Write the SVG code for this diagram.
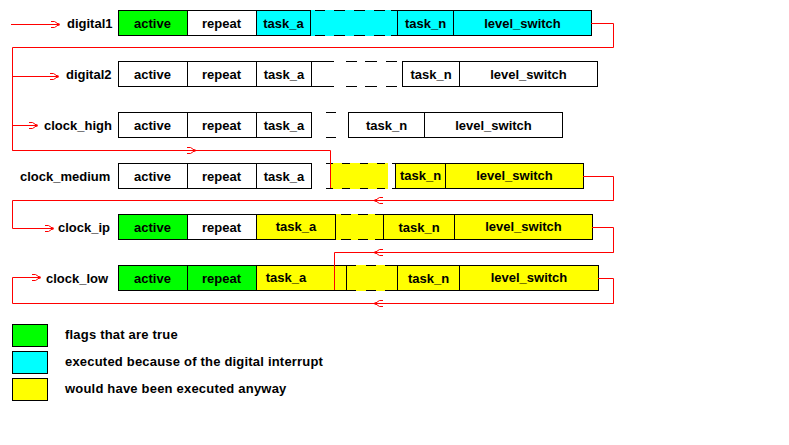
<svg xmlns="http://www.w3.org/2000/svg" width="789" height="445" viewBox="0 0 789 445">
  <style>
    text { font-family: "Liberation Sans", Arial, sans-serif; font-size: 13px; font-weight: bold; fill: #000; }
    .c { text-anchor: middle; }
    .key { letter-spacing: 0.2px; }
    .cell { stroke: #000; stroke-width: 1; }
    .w { fill: #fff; }
    .g { fill: #00ff00; }
    .cy { fill: #00ffff; }
    .y { fill: #ffff00; }
    .dash { stroke: #000; stroke-width: 1; fill: none; }
    .wire { stroke: #ff0000; stroke-width: 1; fill: none; }
  </style>
  <defs>
    <marker id="head" viewBox="-9 -4 10 8" refX="0" refY="0" markerWidth="10" markerHeight="8" markerUnits="userSpaceOnUse" orient="auto">
      <path d="M-8,-3 H-4.5 L0,0 L-4.5,3 H-8" fill="none" stroke="#ff0000" stroke-width="1"/>
      <circle cx="-0.5" cy="0" r="1.3" fill="#ff0000"/>
    </marker>
  </defs>
  <rect width="789" height="445" fill="#fff"/>

  <!-- digital1 -->
  <g id="digital1">
    <text x="67" y="28">digital1</text>
    <rect class="cell g" x="118.5" y="10.5" width="69" height="25"/>
    <rect class="cell w" x="187.5" y="10.5" width="69" height="25"/>
    <rect class="cell cy" x="256.5" y="10.5" width="54" height="25"/>
    <rect class="cy" x="311" y="10" width="86" height="26"/>
    <path class="dash" d="M315,10.5 H325 M334,10.5 H345 M354,10.5 H365 M374,10.5 H385 M391,10.5 H397 M315,35.5 H325 M334,35.5 H345 M354,35.5 H365 M374,35.5 H385 M391,35.5 H397"/>
    <rect class="cell cy" x="397.5" y="10.5" width="56" height="25"/>
    <rect class="cell cy" x="453.5" y="10.5" width="138" height="25"/>
    <text class="c" x="152.5" y="28">active</text>
    <text class="c" x="221.5" y="28">repeat</text>
    <text class="c" x="283.5" y="28">task_a</text>
    <text class="c" x="425.5" y="28">task_n</text>
    <text class="c" x="522.5" y="28">level_switch</text>
  </g>

  <!-- digital2 -->
  <g id="digital2">
    <text x="66" y="79">digital2</text>
    <rect class="cell w" x="118.5" y="61.5" width="69" height="25"/>
    <rect class="cell w" x="187.5" y="61.5" width="69" height="25"/>
    <rect class="cell w" x="256.5" y="61.5" width="55" height="25"/>
    <path class="dash" d="M311,61.5 H334 M346,61.5 H357 M365,61.5 H377 M386,61.5 H397 M311,86.5 H334 M346,86.5 H357 M365,86.5 H377 M386,86.5 H397"/>
    <rect class="cell w" x="402.5" y="61.5" width="57" height="25"/>
    <rect class="cell w" x="459.5" y="61.5" width="138" height="25"/>
    <text class="c" x="152.5" y="79">active</text>
    <text class="c" x="221.5" y="79">repeat</text>
    <text class="c" x="284" y="79">task_a</text>
    <text class="c" x="431" y="79">task_n</text>
    <text class="c" x="528.5" y="79">level_switch</text>
  </g>

  <!-- clock_high -->
  <g id="clock_high">
    <text x="44" y="130">clock_high</text>
    <rect class="cell w" x="118.5" y="112.5" width="69" height="25"/>
    <rect class="cell w" x="187.5" y="112.5" width="69" height="25"/>
    <rect class="cell w" x="256.5" y="112.5" width="55" height="25"/>
    <path class="dash" d="M326,112.5 H336 M326,137.5 H336"/>
    <rect class="cell w" x="348.5" y="112.5" width="76" height="25"/>
    <rect class="cell w" x="424.5" y="112.5" width="138" height="25"/>
    <text class="c" x="152.5" y="130">active</text>
    <text class="c" x="221.5" y="130">repeat</text>
    <text class="c" x="284" y="130">task_a</text>
    <text class="c" x="386.5" y="130">task_n</text>
    <text class="c" x="493.5" y="130">level_switch</text>
  </g>

  <!-- clock_medium -->
  <g id="clock_medium">
    <text x="20" y="181">clock_medium</text>
    <rect class="cell w" x="118.5" y="163.5" width="69" height="25"/>
    <rect class="cell w" x="187.5" y="163.5" width="69" height="25"/>
    <rect class="cell w" x="256.5" y="163.5" width="55" height="25"/>
    <rect class="y" x="331" y="163" width="57" height="26"/>
    <path class="dash" d="M326,163.5 H333 M342,163.5 H350 M360,163.5 H368 M377,163.5 H385 M392,163.5 H395 M326,188.5 H333 M342,188.5 H350 M360,188.5 H368 M377,188.5 H385 M392,188.5 H395"/>
    <rect class="cell y" x="395.5" y="163.5" width="50" height="25"/>
    <rect class="cell y" x="445.5" y="163.5" width="138" height="25"/>
    <text class="c" x="152.5" y="181">active</text>
    <text class="c" x="221.5" y="181">repeat</text>
    <text class="c" x="284" y="181">task_a</text>
    <text class="c" x="420.5" y="180">task_n</text>
    <text class="c" x="514.5" y="180">level_switch</text>
  </g>

  <!-- clock_ip -->
  <g id="clock_ip">
    <text x="58" y="232">clock_ip</text>
    <rect class="cell g" x="118.5" y="214.5" width="69" height="25"/>
    <rect class="cell w" x="187.5" y="214.5" width="69" height="25"/>
    <rect class="cell y" x="256.5" y="214.5" width="79" height="25"/>
    <rect class="y" x="336" y="214" width="47" height="26"/>
    <path class="dash" d="M341,214.5 H351 M358,214.5 H368 M375,214.5 H383 M341,239.5 H351 M358,239.5 H368 M375,239.5 H383"/>
    <rect class="cell y" x="383.5" y="214.5" width="71" height="25"/>
    <rect class="cell y" x="454.5" y="214.5" width="138" height="25"/>
    <text class="c" x="152.5" y="232">active</text>
    <text class="c" x="221.5" y="232">repeat</text>
    <text class="c" x="296" y="231">task_a</text>
    <text class="c" x="419" y="232">task_n</text>
    <text class="c" x="523.5" y="231">level_switch</text>
  </g>

  <!-- clock_low -->
  <g id="clock_low">
    <text x="46" y="283">clock_low</text>
    <rect class="cell g" x="118.5" y="265.5" width="69" height="25"/>
    <rect class="cell g" x="187.5" y="265.5" width="69" height="25"/>
    <rect class="cell y" x="256.5" y="265.5" width="90" height="25"/>
    <rect class="y" x="347" y="265" width="50" height="26"/>
    <path class="dash" d="M347,265.5 H356 M366,265.5 H376 M385,265.5 H397 M347,290.5 H356 M366,290.5 H376 M385,290.5 H397"/>
    <rect class="cell y" x="397.5" y="265.5" width="62" height="25"/>
    <rect class="cell y" x="459.5" y="265.5" width="139" height="25"/>
    <text class="c" x="152.5" y="283">active</text>
    <text class="c" x="221.5" y="283">repeat</text>
    <text class="c" x="286" y="282">task_a</text>
    <text class="c" x="428.5" y="283">task_n</text>
    <text class="c" x="529" y="282">level_switch</text>
  </g>

  <!-- control flow between the handlers -->
  <g id="connectors">
    <path class="wire" d="M11,24.5 H59" marker-end="url(#head)"/>
    <path class="wire" d="M591,23.5 H613.5 V47.5 H12.5 V150.5 H330.5 V188"/>
    <path class="wire" d="M12.5,76.5 H58" marker-end="url(#head)"/>
    <path class="wire" d="M12.5,125.5 H37" marker-end="url(#head)"/>
    <path class="wire" d="M12.5,150.5 H195" marker-end="url(#head)"/>
    <path class="wire" d="M583,176.5 H613.5 V200.5 H12.5 V228.5 H53" marker-end="url(#head)"/>
    <path class="wire" d="M613.5,200.5 H375" marker-end="url(#head)"/>
    <path class="wire" d="M592,227.5 H613.5 V252.5 H334.5 V290"/>
    <path class="wire" d="M613.5,252.5 H375" marker-end="url(#head)"/>
    <path class="wire" d="M598,278.5 H613.5 V303.5 H12.5 V277.5 H40" marker-end="url(#head)"/>
    <path class="wire" d="M613.5,303.5 H375" marker-end="url(#head)"/>
  </g>

  <!-- legend -->
  <g id="legend">
    <rect class="cell g" x="12.5" y="324.5" width="35" height="22"/>
    <rect class="cell cy" x="12.5" y="351.5" width="35" height="22"/>
    <rect class="cell y" x="12.5" y="378.5" width="35" height="22"/>
    <text class="key" x="65" y="339">flags that are true</text>
    <text class="key" x="65" y="366">executed because of the digital interrupt</text>
    <text class="key" x="65" y="393">would have been executed anyway</text>
  </g>
</svg>
